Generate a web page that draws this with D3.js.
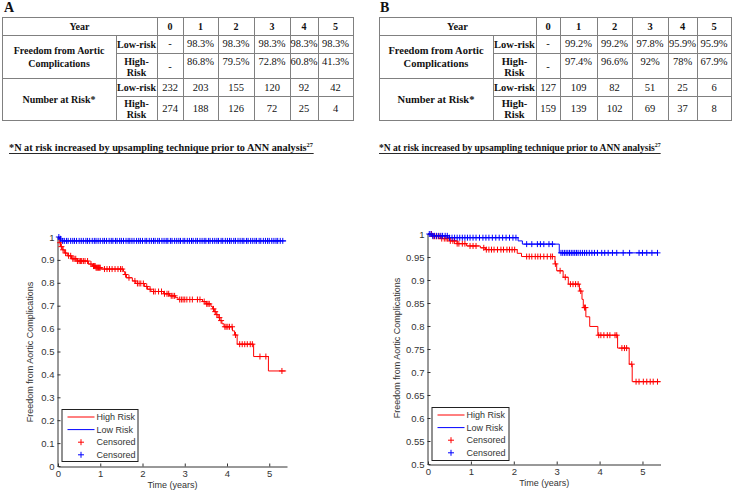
<!DOCTYPE html>
<html><head><meta charset="utf-8">
<script src="https://cdn.jsdelivr.net/npm/d3@7"></script>
<style>body{margin:0;background:#fff}svg{display:block}</style>
</head><body><svg id="c" width="733" height="494"></svg>
<script>
// ---------------- DATA ----------------
const years = ["0","1","2","3","4","5"];
const A_freeLow  = ["-","98.3%","98.3%","98.3%","98.3%","98.3%"];
const A_freeHigh = ["-","86.8%","79.5%","72.8%","60.8%","41.3%"];
const A_nLow  = ["232","203","155","120","92","42"];
const A_nHigh = ["274","188","126","72","25","4"];
const B_freeLow  = ["-","99.2%","99.2%","97.8%","95.9%","95.9%"];
const B_freeHigh = ["-","97.4%","96.6%","92%","78%","67.9%"];
const B_nLow  = ["127","109","82","51","25","6"];
const B_nHigh = ["159","139","102","69","37","8"];
const footText = "*N at risk increased by upsampling technique prior to ANN analysis";
const footSup = "27";

// Panel A Kaplan-Meier (time in years, survival)
const hiA_t = [0,0.03,0.06,0.1,0.15,0.22,0.32,0.45,0.72,0.82,0.9,1.02,1.55,1.58,1.62,1.76,1.84,2.05,2.12,2.2,2.5,2.64,2.78,2.84,3.42,3.5,3.62,3.66,3.7,3.74,3.79,3.83,3.88,3.93,4.13,4.18,4.24,4.63,4.98,5.4];
const hiA_s = [1,0.975,0.958,0.944,0.93,0.918,0.905,0.895,0.882,0.873,0.866,0.86,0.849,0.836,0.822,0.808,0.797,0.784,0.772,0.762,0.752,0.743,0.735,0.727,0.718,0.708,0.697,0.686,0.674,0.661,0.648,0.635,0.621,0.608,0.59,0.572,0.532,0.478,0.415,0.415];
const hiA_cens = [0.05,0.08,0.12,0.18,0.25,0.3,0.35,0.38,0.42,0.46,0.5,0.53,0.56,0.6,0.64,0.7,0.78,0.84,0.86,0.88,0.9,0.92,0.94,0.96,0.98,1.0,1.1,1.16,1.22,1.28,1.35,1.42,1.48,1.52,1.6,1.68,1.82,1.88,1.92,1.96,2.02,2.1,2.18,2.26,2.3,2.38,2.45,2.52,2.58,2.62,2.68,2.72,2.76,2.88,2.92,2.96,3.0,3.05,3.12,3.18,3.3,3.36,3.46,3.52,3.55,3.58,3.68,3.72,3.76,3.82,3.86,3.95,3.98,4.02,4.06,4.12,4.2,4.3,4.36,4.42,4.48,4.55,4.6,4.78,4.92,5.3];
const loA_t = [0,0.03,0.07,5.4];
const loA_s = [1,0.992,0.983,0.983];
const loA_cens = [0.02,0.06,0.11,0.15,0.2,0.24,0.3,0.35,0.39,0.44,0.5,0.55,0.6,0.66,0.7,0.75,0.81,0.86,0.9,0.95,1.0,1.06,1.1,1.15,1.21,1.26,1.3,1.36,1.4,1.46,1.5,1.55,1.61,1.66,1.7,1.75,1.8,1.86,1.91,1.95,2.0,2.06,2.1,2.16,2.21,2.26,2.3,2.36,2.4,2.46,2.51,2.56,2.6,2.66,2.7,2.76,2.81,2.86,2.9,2.96,3.0,3.06,3.11,3.16,3.2,3.26,3.3,3.36,3.41,3.46,3.5,3.56,3.6,3.66,3.71,3.76,3.8,3.86,3.9,3.96,4.01,4.06,4.1,4.16,4.2,4.26,4.31,4.36,4.4,4.46,4.5,4.56,4.61,4.66,4.7,4.76,4.8,4.86,4.91,4.96,5.0,5.06,5.11,5.16,5.2,5.26,5.32];

// Panel B Kaplan-Meier
const hiB_t = [0,0.12,0.3,0.5,0.68,0.9,1.22,1.34,2.08,2.18,2.96,3.0,3.15,3.27,3.53,3.59,3.62,3.68,3.77,3.96,4.42,4.69,4.76,5.42];
const hiB_s = [1,0.995,0.99,0.985,0.979,0.974,0.97,0.966,0.958,0.951,0.935,0.92,0.906,0.891,0.876,0.858,0.84,0.82,0.799,0.78,0.752,0.717,0.679,0.679];
const hiB_cens = [0.08,0.12,0.16,0.2,0.24,0.28,0.32,0.38,0.42,0.46,0.52,0.58,0.62,0.68,0.72,0.8,0.86,0.98,1.05,1.12,1.3,1.36,1.42,1.48,1.54,1.62,1.7,1.76,1.84,1.9,1.96,2.02,2.3,2.36,2.42,2.5,2.56,2.62,2.7,2.78,2.86,2.9,2.97,3.08,3.2,3.32,3.38,3.44,3.5,3.56,3.65,3.67,3.98,4.03,4.1,4.18,4.24,4.36,4.4,4.52,4.58,4.63,4.75,4.85,4.92,5.02,5.1,5.18,5.25,5.35];
const loB_t = [0,0.08,0.5,2.1,2.2,3.06,5.36];
const loB_s = [1,0.996,0.992,0.985,0.978,0.959,0.959];
const loB_cens = [0.03,0.07,0.11,0.15,0.2,0.25,0.3,0.34,0.4,0.45,0.5,0.56,0.62,0.68,0.74,0.8,0.86,0.92,0.98,1.05,1.12,1.2,1.28,1.35,1.42,1.5,1.58,1.66,1.74,1.82,1.9,1.98,2.05,2.3,2.42,2.55,2.62,2.7,2.82,2.9,3.1,3.14,3.18,3.22,3.26,3.3,3.34,3.38,3.42,3.46,3.5,3.55,3.6,3.65,3.7,3.76,3.82,3.88,3.95,4.05,4.12,4.2,4.3,4.4,4.55,4.7,4.92,5.0,5.1,5.22,5.35];

// ---------------- DRAW ----------------
const svg = d3.select("#c");

function drawTable(cfg){
  const g = svg.append("g");
  const X = cfg.X, Y = cfg.Y, ff = cfg.font;
  const lc = "#808080";
  const h = (y,x0,x1)=>g.append("line").attr("x1",x0).attr("x2",x1).attr("y1",y+0.5).attr("y2",y+0.5).attr("stroke",lc);
  const v = (x,y0,y1)=>g.append("line").attr("x1",x+0.5).attr("x2",x+0.5).attr("y1",y0).attr("y2",y1).attr("stroke",lc);
  h(Y[0],X[0],X[8]+1); h(Y[1],X[0],X[8]+1); h(Y[3],X[0],X[8]+1); h(Y[5],X[0],X[8]+1);
  h(Y[2],X[1],X[8]+1); h(Y[4],X[1],X[8]+1);
  v(X[0],Y[0],Y[5]+1); v(X[8],Y[0],Y[5]+1); v(X[1],Y[1],Y[5]);
  for(let i=2;i<8;i++) v(X[i],Y[0],Y[5]);
  const t = (x,y,s,bold)=>g.append("text").attr("x",x).attr("y",y).text(s)
     .attr("text-anchor","middle").attr("dominant-baseline","central")
     .attr("font-family",ff).attr("font-size",bold?cfg.ls:cfg.ns)
     .attr("font-weight",bold?"bold":"normal").attr("fill","#111");
  const cL = (X[0]+X[1])/2, cS=(X[1]+X[2])/2, cY=(X[0]+X[2])/2;
  t(cY,(Y[0]+Y[1])/2+0.5,"Year",true);
  years.forEach((d,i)=>t((X[i+2]+X[i+3])/2,(Y[0]+Y[1])/2+0.5,d,true));
  t(cL,Y[1]+15.5,"Freedom from Aortic",true);
  t(cL,Y[1]+28,"Complications",true);
  t(cL,(Y[3]+Y[5])/2,"Number at Risk*",true);
  t(cS,(Y[1]+Y[2])/2,"Low-risk",true);
  t(cS,Y[2]+8,"High-",true); t(cS,Y[2]+19,"Risk",true);
  t(cS,(Y[3]+Y[4])/2,"Low-risk",true);
  t(cS,Y[4]+7.5,"High-",true); t(cS,Y[4]+18.5,"Risk",true);
  const cx = i=>(X[i+2]+X[i+3])/2;
  cfg.freeLow.forEach((d,i)=>t(cx(i),(Y[1]+Y[2])/2-0.5,d,false));
  cfg.freeHigh.forEach((d,i)=>t(cx(i),d==="-"?(Y[2]+Y[3])/2+1:Y[2]+8.5,d,false));
  cfg.nLow.forEach((d,i)=>t(cx(i),(Y[3]+Y[4])/2,d,false));
  cfg.nHigh.forEach((d,i)=>t(cx(i),(Y[4]+Y[5])/2,d,false));
  // panel letter
  g.append("text").attr("x",cfg.letterX).attr("y",12).text(cfg.letter)
    .attr("font-family",ff).attr("font-weight","bold").attr("font-size",14).attr("fill","#111");
  // footnote
  const ft = g.append("text").attr("x",cfg.footX).attr("y",151)
    .attr("font-family",ff).attr("font-weight","bold").attr("font-size",10).attr("fill","#111");
  const main = ft.append("tspan").text(footText);
  const w = main.node().getComputedTextLength();
  const fs = 10*cfg.footW/w;
  ft.attr("font-size",fs);
  ft.append("tspan").text(footSup).attr("font-size",fs*0.62).attr("dy",-4);
  const bb = ft.node().getBBox();
  g.append("line").attr("x1",cfg.footX).attr("x2",bb.x+bb.width).attr("y1",153.5).attr("y2",153.5)
    .attr("stroke","#111").attr("stroke-width",0.9);
}

drawTable({X:[2,116,157,183,218,254,290,318,353],Y:[17,35,53,78,96,120],font:"'Liberation Serif','Times New Roman',serif",
  ls:10,ns:10.5,freeLow:A_freeLow,freeHigh:A_freeHigh,nLow:A_nLow,nHigh:A_nHigh,letter:"A",letterX:4,footX:9,footW:298});
drawTable({X:[379,493,536,560,597,632,668,697,731],Y:[17,35,53,78,96,120],font:"'Liberation Serif','Times New Roman',serif",
  ls:10.5,ns:10.5,freeLow:B_freeLow,freeHigh:B_freeHigh,nLow:B_nLow,nHigh:B_nHigh,letter:"B",letterX:380,footX:379,footW:276});

const sans = "'Liberation Sans',Arial,sans-serif";
const txtCol = "#333";

function drawPlot(cfg){
  const g = svg.append("g");
  const x = d3.scaleLinear().domain([0,5.42]).range([cfg.x0,cfg.x1]);
  const y = d3.scaleLinear().domain(cfg.yd).range([cfg.yb,cfg.yt]);
  const xa = g.append("g").attr("transform",`translate(0,${cfg.yb+0.5})`)
    .call(d3.axisBottom(x).tickValues([0,1,2,3,4,5]).tickSizeInner(-3).tickSizeOuter(0).tickPadding(3).tickFormat(d3.format("d")));
  const ya = g.append("g").attr("transform",`translate(${cfg.x0-0.5},0)`)
    .call(d3.axisLeft(y).tickValues(cfg.yticks).tickSizeInner(-3).tickSizeOuter(0).tickPadding(3).tickFormat(d=>String(+d.toFixed(2))));
  [xa,ya].forEach(a=>{
    a.selectAll("path,line").attr("stroke",txtCol);
    a.selectAll("text").attr("font-family",sans).attr("font-size",9.5).attr("fill",txtCol);
  });
  xa.selectAll("text").attr("dy","0.75em");
  const surv = (ts,ss,t)=>ss[Math.max(0,d3.bisectRight(ts,t)-1)];
  const line = d3.line().curve(d3.curveStepAfter).x(d=>x(d[0])).y(d=>y(d[1]));
  const series = [
    {t:cfg.hi_t,s:cfg.hi_s,c:cfg.hi_c,col:"#ff0000"},
    {t:cfg.lo_t,s:cfg.lo_s,c:cfg.lo_c,col:"#0000ff"}];
  series.forEach(S=>{
    g.append("path").attr("d",line(S.t.map((t,i)=>[t,S.s[i]]))).attr("fill","none")
      .attr("stroke",S.col).attr("stroke-width",1);
  });
  series.forEach(S=>{
    g.selectAll(null).data(S.c).enter().append("path")
      .attr("transform",t=>`translate(${x(t)},${y(surv(S.t,S.s,t))})`)
      .attr("d","M-3,0H3M0,-3V3").attr("stroke",S.col).attr("stroke-width",1).attr("fill","none");
  });
  // axis labels
  g.append("text").attr("x",(cfg.x0+cfg.x1)/2).attr("y",cfg.yb+22).text("Time (years)")
    .attr("text-anchor","middle").attr("font-family",sans).attr("font-size",9).attr("fill",txtCol);
  g.append("text").attr("transform",`translate(${cfg.ylx},${cfg.ylc}) rotate(-90)`).text("Freedom from Aortic Complications")
    .attr("text-anchor","middle").attr("font-family",sans).attr("font-size",9).attr("fill",txtCol);
  // legend
  const L = cfg.leg;
  const lg = g.append("g").attr("transform",`translate(${L[0]},${L[1]})`);
  lg.append("rect").attr("x",0.5).attr("y",0.5).attr("width",L[2]).attr("height",L[3]).attr("fill","#fff").attr("stroke","#222").attr("stroke-width",1);
  const names = ["High Risk","Low Risk","Censored","Censored"];
  const cols = ["#ff0000","#0000ff","#ff0000","#0000ff"];
  names.forEach((n,i)=>{
    const yy = 8 + i*12.6;
    if(i<2) lg.append("line").attr("x1",6).attr("x2",33).attr("y1",yy).attr("y2",yy).attr("stroke",cols[i]);
    else lg.append("path").attr("transform",`translate(19.5,${yy})`).attr("d","M-3,0H3M0,-3V3").attr("stroke",cols[i]);
    lg.append("text").attr("x",35).attr("y",yy).attr("dominant-baseline","central").text(n)
      .attr("font-family",sans).attr("font-size",9).attr("fill",txtCol);
  });
}

drawPlot({x0:58,x1:287,yb:466,yt:237,yd:[0,1],yticks:[0,0.1,0.2,0.3,0.4,0.5,0.6,0.7,0.8,0.9,1],
  hi_t:hiA_t,hi_s:hiA_s,hi_c:hiA_cens,lo_t:loA_t,lo_s:loA_s,lo_c:loA_cens,
  ylx:33,ylc:352,leg:[61.5,409,76,52]});
drawPlot({x0:428,x1:660.5,yb:464,yt:234,yd:[0.5,1],yticks:[0.5,0.55,0.6,0.65,0.7,0.75,0.8,0.85,0.9,0.95,1],
  hi_t:hiB_t,hi_s:hiB_s,hi_c:hiB_cens,lo_t:loB_t,lo_s:loB_s,lo_c:loB_cens,
  ylx:400,ylc:348,leg:[431.5,407,77,53]});
</script></body></html>
